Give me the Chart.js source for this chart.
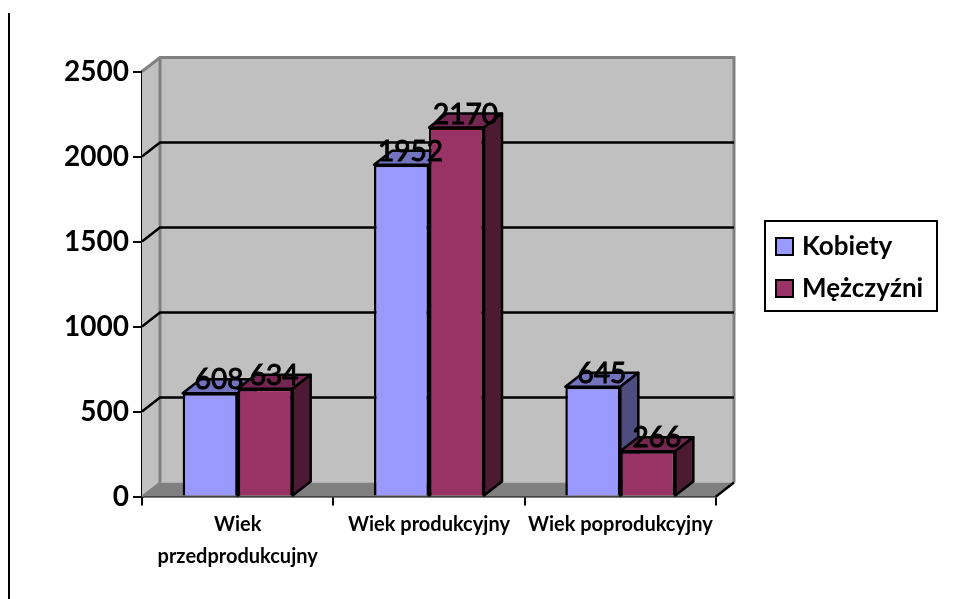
<!DOCTYPE html>
<html>
<head>
<meta charset="utf-8">
<title>Wiek</title>
<script src="https://cdn.jsdelivr.net/npm/chart.js@4"></script>
<style>
  html, body { margin: 0; padding: 0; background: #fff; }
  #wrap { position: relative; width: 959px; height: 599px; overflow: hidden; }
  #sideline { position: absolute; left: 8px; top: 13px; width: 2px; height: 586px; background: #000; }
</style>
</head>
<body>
<div id="wrap">
  <div id="sideline"></div>
  <canvas id="chart" width="959" height="599"></canvas>
</div>
<script>
"use strict";

const categories = [["Wiek", "przedprodukcujny"], "Wiek produkcyjny", "Wiek poprodukcyjny"];
const seriesNames = ["Kobiety", "Mężczyźni"];
const kobiety = [608, 1952, 645];
const mezczyzni = [634, 2170, 266];
const yTicks = [0, 500, 1000, 1500, 2000, 2500];

// colours: front, top, side
const faces = [
    ["#9999ff", "#7373bf", "#4d4d80"],
    ["#993366", "#732650", "#4d1a33"],
];

// 3D depth of the fake perspective
const DX = 18;
const DY = -14;

function poly(ctx, pts, fill, stroke, lw) {
    ctx.beginPath();
    pts.forEach((p, i) => (i ? ctx.lineTo(p[0], p[1]) : ctx.moveTo(p[0], p[1])));
    ctx.closePath();
    ctx.fillStyle = fill;
    ctx.fill();
    if (stroke) {
        ctx.strokeStyle = stroke;
        ctx.lineWidth = lw;
        ctx.lineJoin = "round";
        ctx.stroke();
    }
}

// back wall, side wall, floor and grid lines
const wallsPlugin = {
    id: "walls",
    beforeDatasetsDraw(chart) {
        const { ctx, chartArea: a, scales } = chart;
        ctx.save();
        poly(ctx, [[a.left + DX, a.top + DY], [a.right + DX, a.top + DY], [a.right + DX, a.bottom + DY], [a.left + DX, a.bottom + DY]], "#c0c0c0");
        poly(ctx, [[a.left, a.top], [a.left + DX, a.top + DY], [a.left + DX, a.bottom + DY], [a.left, a.bottom]], "#c0c0c0");
        poly(ctx, [[a.left, a.bottom], [a.left + DX, a.bottom + DY], [a.right + DX, a.bottom + DY], [a.right, a.bottom]], "#808080");

        ctx.strokeStyle = "#808080";
        ctx.lineWidth = 3;
        ctx.beginPath();
        ctx.moveTo(a.left, a.top);
        ctx.lineTo(a.left + DX, a.top + DY);
        ctx.lineTo(a.right + DX, a.top + DY);
        ctx.lineTo(a.right + DX, a.bottom + DY);
        ctx.moveTo(a.left + DX, a.top + DY);
        ctx.lineTo(a.left + DX, a.bottom + DY);
        ctx.stroke();

        ctx.strokeStyle = "#000";
        ctx.lineWidth = 2.5;
        ctx.beginPath();
        for (const v of yTicks) {
            if (v === 0 || v === 2500) continue;
            const y = scales.y.getPixelForValue(v);
            ctx.moveTo(a.left, y);
            ctx.lineTo(a.left + DX, y + DY);
            ctx.lineTo(a.right + DX, y + DY);
        }
        // front floor edges
        ctx.moveTo(a.right, a.bottom);
        ctx.lineTo(a.right + DX, a.bottom + DY);
        ctx.stroke();

        ctx.strokeStyle = "#808080";
        ctx.lineWidth = 2;
        ctx.beginPath();
        ctx.moveTo(a.left, a.bottom);
        ctx.lineTo(a.left + DX, a.bottom + DY);
        ctx.stroke();

        // bar tops and sides, left series first so the right one overlaps it
        chart.data.datasets.forEach((ds, i) => {
            chart.getDatasetMeta(i).data.forEach((bar) => {
                const p = bar.getProps(["x", "y", "base", "width"], true);
                const l = p.x - p.width / 2;
                const r = p.x + p.width / 2;
                poly(ctx, [[l, p.y], [l + DX, p.y + DY], [r + DX, p.y + DY], [r, p.y]], faces[i][1], "#000", 2.5);
                poly(ctx, [[r, p.y], [r + DX, p.y + DY], [r + DX, p.base + DY], [r, p.base]], faces[i][2], "#000", 2.5);
            });
        });
        ctx.restore();
    },
    afterDatasetsDraw(chart) {
        const { ctx } = chart;
        ctx.save();
        ctx.font = "28px Lato";
        ctx.fillStyle = "#000";
        ctx.strokeStyle = "#000";
        ctx.lineWidth = 1;
        ctx.textAlign = "center";
        ctx.textBaseline = "middle";
        chart.data.datasets.forEach((ds, i) => {
            chart.getDatasetMeta(i).data.forEach((bar, j) => {
                const label = String(ds.data[j]);
                ctx.fillText(label, bar.x + 9, bar.y - 13);
                ctx.strokeText(label, bar.x + 9, bar.y - 13);
            });
        });
        ctx.restore();
    },
};

// legend box on the right
const legendPlugin = {
    id: "boxLegend",
    afterDraw(chart) {
        const { ctx } = chart;
        ctx.save();
        ctx.strokeStyle = "#000";
        ctx.lineWidth = 2;
        ctx.fillStyle = "#fff";
        ctx.fillRect(765, 221, 172, 90);
        ctx.strokeRect(765, 221, 172, 90);
        ctx.font = "bold 26px Lato";
        ctx.textBaseline = "middle";
        const rows = [247, 289];
        seriesNames.forEach((name, i) => {
            ctx.fillStyle = faces[i][0];
            ctx.fillRect(776, rows[i] - 9, 17, 17);
            ctx.strokeRect(776, rows[i] - 9, 17, 17);
            ctx.fillStyle = "#000";
            ctx.fillText(name, 802, rows[i]);
        });
        ctx.restore();
    },
};

new Chart(document.getElementById("chart"), {
    type: "bar",
    data: {
        labels: categories,
        datasets: [
            { label: seriesNames[0], data: kobiety, backgroundColor: faces[0][0] },
            { label: seriesNames[1], data: mezczyzni, backgroundColor: faces[1][0] },
        ],
    },
    plugins: [wallsPlugin, legendPlugin],
    options: {
        responsive: false,
        animation: false,
        devicePixelRatio: 1,
        layout: { padding: { left: 0, top: 71.5, right: 243, bottom: 0 } },
        datasets: {
            bar: {
                borderColor: "#000",
                borderWidth: 2.5,
                categoryPercentage: 0.575,
                barPercentage: 1,
            },
        },
        plugins: { legend: { display: false }, tooltip: { enabled: false } },
        scales: {
            x: {
                afterFit: (s) => { s.height = 102.5; },
                grid: { offset: true, drawOnChartArea: false, drawTicks: true, tickLength: 9, color: "#000", lineWidth: 2 },
                border: { display: true, color: "#000", width: 2.5 },
                ticks: {
                    color: "#000",
                    maxRotation: 0,
                    autoSkip: false,
                    padding: 3,
                    font: { family: "Lato", weight: "bold", size: 20, lineHeight: 1.6 },
                },
            },
            y: {
                min: 0,
                max: 2500,
                afterFit: (s) => { s.width = 142; },
                afterBuildTicks: (s) => { s.ticks = yTicks.map((value) => ({ value })); },
                grid: { drawOnChartArea: false, drawTicks: true, tickLength: 9, color: "#000", lineWidth: 2 },
                border: { display: true, color: "#000", width: 2.5 },
                ticks: {
                    color: "#000",
                    padding: 4,
                    callback: (v) => String(v),
                    font: { family: "Lato", weight: "bold", size: 28 },
                },
            },
        },
    },
});
</script>
</body>
</html>
